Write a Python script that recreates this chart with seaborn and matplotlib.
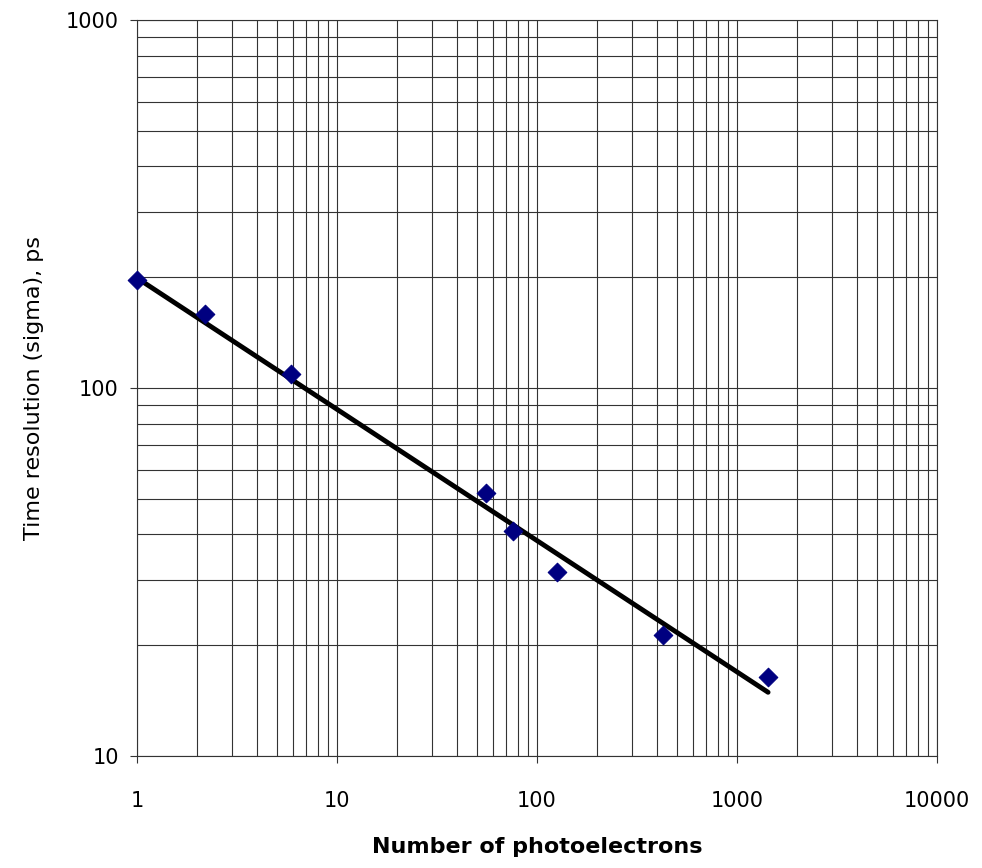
import pandas as pd
import matplotlib.pyplot as plt
import seaborn as sns
from matplotlib.ticker import LogLocator, NullFormatter, FixedLocator, FixedFormatter

# measured points
photoelectrons = [1.0, 2.2, 5.9, 55.6, 76, 126, 427, 1430]
sigma_ps = [197, 159, 109, 51.8, 40.9, 31.6, 21.3, 16.4]

# trend line end points
trend_x = [1.0, 1430]
trend_y = [199, 14.9]

df = pd.DataFrame({'npe': photoelectrons, 'sigma': sigma_ps})
df_fit = pd.DataFrame({'npe': trend_x, 'sigma': trend_y})

sns.set_style('white')
plt.rcParams['font.family'] = ['DejaVu Sans']
plt.rcParams['text.color'] = 'black'
plt.rcParams['axes.labelcolor'] = 'black'
plt.rcParams['xtick.color'] = 'black'
plt.rcParams['ytick.color'] = 'black'

fig = plt.figure(figsize=(9.82, 8.68), dpi=100)
ax = fig.add_axes([0.1395, 0.129, 0.8147, 0.848])

ax.set_xscale('log')
ax.set_yscale('log')

sns.lineplot(x='npe', y='sigma', data=df_fit, ax=ax, color='black', linewidth=3.5, zorder=3)
sns.scatterplot(x='npe', y='sigma', data=df, ax=ax, marker='D', s=90, color='#000080',
                edgecolor='#000080', zorder=4, clip_on=False)

ax.set_xlim(1, 10000)
ax.set_ylim(10, 1000)

ax.xaxis.set_major_locator(FixedLocator([1, 10, 100, 1000, 10000]))
ax.xaxis.set_major_formatter(FixedFormatter(['1', '10', '100', '1000', '10000']))
ax.yaxis.set_major_locator(FixedLocator([10, 100, 1000]))
ax.yaxis.set_major_formatter(FixedFormatter(['10', '100', '1000']))
ax.xaxis.set_minor_locator(LogLocator(base=10, subs=range(2, 10), numticks=20))
ax.yaxis.set_minor_locator(LogLocator(base=10, subs=range(2, 10), numticks=20))
ax.xaxis.set_minor_formatter(NullFormatter())
ax.yaxis.set_minor_formatter(NullFormatter())

ax.grid(True, which='both', color='#333333', linewidth=0.8)
ax.tick_params(which='major', direction='out', length=5, width=0.8, color='#333333',
               labelsize=15, bottom=True, left=True)
ax.tick_params(axis='x', which='major', pad=20)
ax.tick_params(axis='y', which='major', pad=8)
ax.tick_params(which='minor', length=0)

for sp in ax.spines.values():
    sp.set_color('#333333')
    sp.set_linewidth(0.8)

ax.set_xlabel('Number of photoelectrons', fontsize=16, fontweight='bold', labelpad=19)
ax.set_ylabel('Time resolution (sigma), ps', fontsize=16, labelpad=16)

fig.savefig('out.png', dpi=100)
